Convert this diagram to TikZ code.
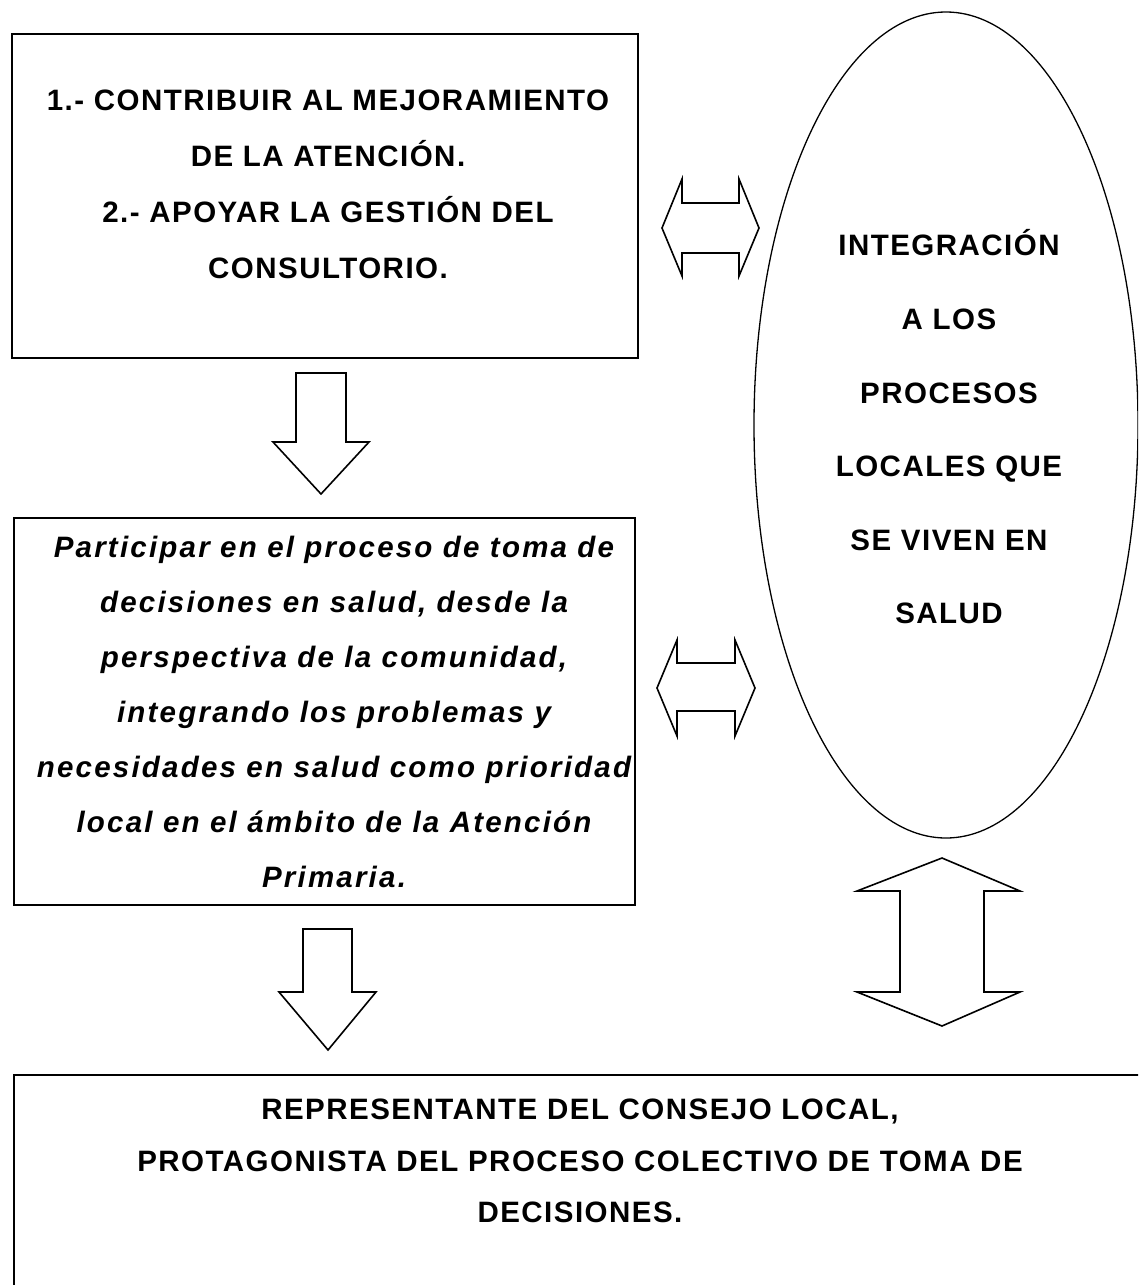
\documentclass[tikz,border=0pt]{standalone}
\usepackage{fontspec}
\setmainfont{Liberation Sans}
\newfontfamily\capsfam[LetterSpace=5]{Liberation Sans}
\newfontfamily\italfam[LetterSpace=7.5]{Liberation Sans}
\usetikzlibrary{shapes.geometric}
\begin{document}
\begin{tikzpicture}[x=1pt,y=-1pt,
  box/.style={draw, line width=1.3pt, inner sep=0pt, outer sep=0pt},
  oval/.style={draw, ellipse, line width=1.3pt, inner sep=0pt, outer sep=0pt},
  blockarrow/.style={draw, line width=1.6pt, line join=miter},
  caps/.style={font=\capsfam\fontsize{29.5}{#1}\selectfont\bfseries, align=center, inner sep=0pt},
  ital/.style={font=\italfam\fontsize{29.5}{55}\selectfont\bfseries\itshape, align=center, inner sep=0pt}]
\useasboundingbox (0,0) rectangle (1138,1285);
\clip (0,0) rectangle (1138,1285);

% boxes and ellipse
\node[box, minimum width=626pt, minimum height=324pt] (top) at (325,196) {};
\node[box, minimum width=621pt, minimum height=387pt] (mid) at (324.5,711.5) {};
\node[box, minimum width=1160pt, minimum height=260pt, anchor=north west] (bot) at (14,1075) {};
\node[oval, minimum width=384pt, minimum height=826pt] (ell) at (946,425) {};

% texts
\node[caps=56] (toptext) at (328,184) {1.- CONTRIBUIR AL MEJORAMIENTO\\DE LA ATENCIÓN.\\2.- APOYAR LA GESTIÓN DEL\\CONSULTORIO.};
\node[ital] (midtext) at (334,712) {Participar en el proceso de toma de\\decisiones en salud, desde la\\perspectiva de la comunidad,\\integrando los problemas y\\necesidades en salud como prioridad\\local en el ámbito de la Atención\\Primaria.};
\node[caps=73.6] (elltext) at (949,427) {INTEGRACIÓN\\A LOS\\PROCESOS\\LOCALES QUE\\SE VIVEN EN\\SALUD};
\node[caps=51.5] (bottext) at (580,1161) {REPRESENTANTE DEL CONSEJO LOCAL,\\PROTAGONISTA DEL PROCESO COLECTIVO DE TOMA DE\\DECISIONES.};

% down arrow 1 (top box -> middle box)
\draw[blockarrow] (296,373) -- (346,373) -- (346,442) -- (369,442) -- (321,494)
  -- (273,442) -- (296,442) -- cycle;
% down arrow 2 (middle box -> bottom box)
\draw[blockarrow] (303,929) -- (352,929) -- (352,992) -- (376,992) -- (328,1050)
  -- (279,992) -- (303,992) -- cycle;
% horizontal double arrow 1
\draw[blockarrow] (662,228) -- (682,179) -- (682,203) -- (739,203) -- (739,179)
  -- (759,228) -- (739,276) -- (739,253) -- (682,253) -- (682,276) -- cycle;
% horizontal double arrow 2
\draw[blockarrow] (657,688) -- (677,640) -- (677,663) -- (735,663) -- (735,640)
  -- (755,688) -- (735,736) -- (735,711) -- (677,711) -- (677,736) -- cycle;
% vertical double arrow
\draw[blockarrow] (942,858) -- (1020,891) -- (984,891) -- (984,992) -- (1020,992)
  -- (942,1026) -- (857,992) -- (900,992) -- (900,891) -- (857,891) -- cycle;
\end{tikzpicture}
\end{document}
